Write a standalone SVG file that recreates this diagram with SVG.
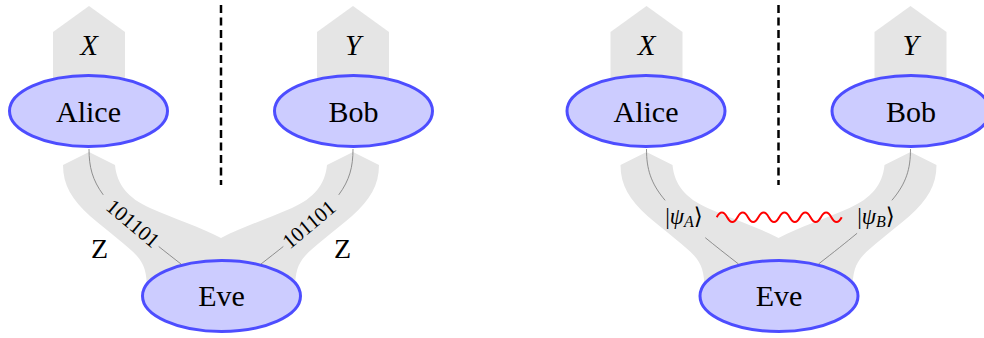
<svg xmlns="http://www.w3.org/2000/svg" width="984" height="338" viewBox="0 0 984 338">
<defs>
<style>
.band{fill:#e5e5e5;stroke:none}
.node ellipse{fill:#ccccff;stroke:#4d4dff;stroke-width:3}
.node text{font-family:"Liberation Serif","DejaVu Serif",serif;font-size:30px;text-anchor:middle;fill:#000}
.var{font-family:"Liberation Serif","DejaVu Serif",serif;font-size:29px;font-style:italic;text-anchor:middle;fill:#000}
.zl{font-family:"Liberation Serif","DejaVu Serif",serif;font-size:28px;text-anchor:middle;fill:#000}
.bits{font-family:"Liberation Serif","DejaVu Serif",serif;font-size:21px;text-anchor:middle;fill:#000}
.ket{font-family:"Liberation Serif","DejaVu Serif",serif;font-size:23px;text-anchor:middle;fill:#000}
.thin{fill:none;stroke:#777;stroke-width:0.8}
.dash{stroke:#000;stroke-width:2.5;stroke-dasharray:8 4.5;fill:none}
.wave{fill:none;stroke:#ff0000;stroke-width:2}
</style>
<g id="bg">
<path class="band" d="M53,80 L53,32 L89,6 L125,32 L125,80 Z"/>
<path class="band" d="M317,80 L317,32 L353,6 L389,32 L389,80 Z"/>
<path class="band" d="M63,165 L89,152 L115,165 C117,185 128,198 150,208 C175,219 200,227 221,238 C242,227 267,219 292,208 C314,198 325,185 327,165 L353,152 L379,165 C379,185 370,200 352,216 C332,233 314,246 305,256 C298,264 295,272 295,290 L147,290 C147,272 144,264 137,256 C128,246 110,233 90,216 C72,200 63,185 63,165 Z"/>
<line class="dash" x1="221" y1="5" x2="221" y2="185"/>
</g>
</defs>

<g id="panel-left-bg"><use href="#bg"/></g>
<g id="panel-right-bg" transform="translate(557.5,0)"><use href="#bg"/></g>

<g id="connectors">
  <g id="connectors-left">
    <path class="thin" d="M89,149 C89,188 105,205 181,264" stroke-dasharray="49 76 300"/>
    <path class="thin" d="M353,149 C353,188 337,205 261,264" stroke-dasharray="49 76 300"/>
  </g>
  <g id="connectors-right" transform="translate(557.5,0)">
    <path class="thin" d="M89,149 C89,188 105,205 181,264" stroke-dasharray="56 55 300"/>
    <path class="thin" d="M353,149 C353,188 337,205 261,264" stroke-dasharray="56 48 300"/>
    <path class="wave" d="M159.2,217.2 q5.21,-9.4 10.42,0 t10.42,0 t10.42,0 t10.42,0 t10.42,0 t10.42,0 t10.42,0 t10.42,0 t10.42,0 t10.42,0 t10.42,0 t10.42,0"/>
  </g>
</g>

<g id="labels-left">
  <text class="var" x="89" y="55">X</text>
  <text class="var" x="353" y="55">Y</text>
  <text class="zl" x="99.5" y="258">Z</text>
  <text class="zl" x="342.5" y="258">Z</text>
  <text class="bits" transform="translate(133,223.5) rotate(40)" y="7">101101</text>
  <text class="bits" transform="translate(309,224.5) rotate(-40)" y="7">101101</text>
</g>
<g id="labels-right" transform="translate(557.5,0)">
  <text class="var" x="89" y="55">X</text>
  <text class="var" x="353" y="55">Y</text>
  <text class="ket" x="126.5" y="224">|<tspan font-style="italic">ψ</tspan><tspan font-style="italic" font-size="16" dy="3">A</tspan><tspan dy="-3">⟩</tspan></text>
  <text class="ket" x="318.5" y="224">|<tspan font-style="italic">ψ</tspan><tspan font-style="italic" font-size="16" dy="3">B</tspan><tspan dy="-3">⟩</tspan></text>
</g>

<g id="alice-left" class="node"><ellipse cx="88.5" cy="111" rx="79" ry="35.5"/><text x="88.5" y="121.5">Alice</text></g>
<g id="bob-left" class="node"><ellipse cx="353.5" cy="111" rx="79" ry="35.5"/><text x="353.5" y="121.5">Bob</text></g>
<g id="eve-left" class="node"><ellipse cx="221.5" cy="296" rx="79" ry="35.5"/><text x="221.5" y="306">Eve</text></g>

<g id="alice-right" class="node" transform="translate(557.5,0)"><ellipse cx="88.5" cy="111" rx="79" ry="35.5"/><text x="88.5" y="121.5">Alice</text></g>
<g id="bob-right" class="node" transform="translate(557.5,0)"><ellipse cx="353.5" cy="111" rx="79" ry="35.5"/><text x="353.5" y="121.5">Bob</text></g>
<g id="eve-right" class="node" transform="translate(557.5,0)"><ellipse cx="221.5" cy="296" rx="79" ry="35.5"/><text x="221.5" y="306">Eve</text></g>
</svg>
